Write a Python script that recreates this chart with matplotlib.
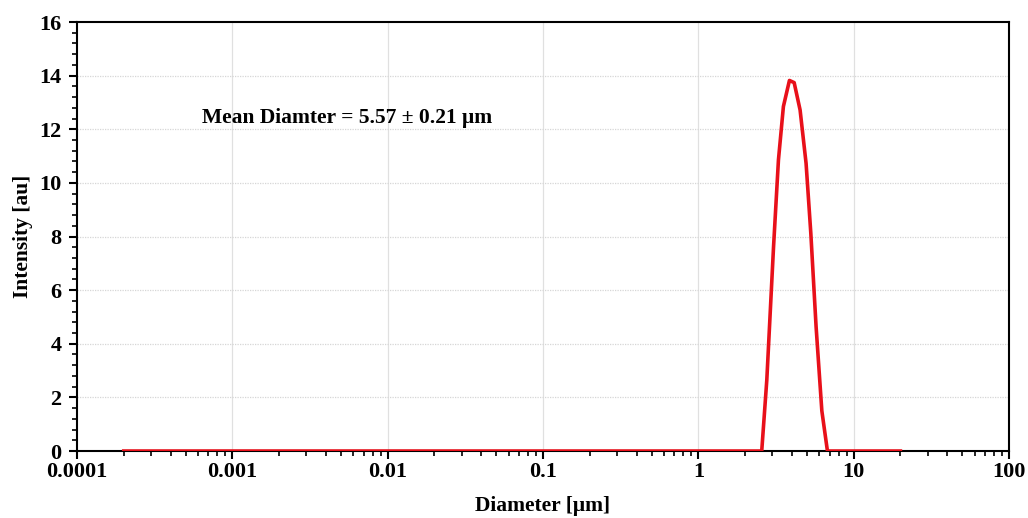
import numpy as np
import matplotlib.pyplot as plt
from matplotlib.ticker import MultipleLocator, LogLocator, NullFormatter

# ---------- Data ----------
diameter = [0.0002, 2.56, 2.76, 3.05, 3.28, 3.53, 3.86, 4.14, 4.52, 4.94, 5.30, 5.73, 6.24, 6.78, 20]
intensity = [0, 0, 2.65, 7.62, 10.86, 12.85, 13.82, 13.74, 12.72, 10.73, 8.12, 4.64, 1.5, 0, 0]

x_ticks = [0.0001, 0.001, 0.01, 0.1, 1, 10, 100]
x_tick_labels = ["0.0001", "0.001", "0.01", "0.1", "1", "10", "100"]
y_ticks = [0, 2, 4, 6, 8, 10, 12, 14, 16]

plt.rcParams['font.family'] = ['Liberation Serif', 'DejaVu Serif']
plt.rcParams['font.weight'] = 'bold'

fig = plt.figure(figsize=(10.28, 5.18), dpi=100)
ax = fig.add_axes([0.0749, 0.1293, 0.9066, 0.8282])

ax.plot(diameter, intensity, color='#e8101a', lw=2.6, zorder=3)

ax.set_xscale('log')
ax.set_xlim(0.0001, 100)
ax.set_ylim(0, 16)

ax.set_xticks(x_ticks)
ax.set_xticklabels(x_tick_labels)
ax.xaxis.set_minor_locator(LogLocator(base=10, subs=np.arange(2, 10)))
ax.xaxis.set_minor_formatter(NullFormatter())
ax.set_yticks(y_ticks)
ax.yaxis.set_minor_locator(MultipleLocator(0.4))

# grid: solid vertical at decades, dotted horizontal
for xv in x_ticks[1:-1]:
    ax.axvline(xv, color='#e0e0e0', lw=0.9, zorder=1)
for yv in y_ticks[1:-1]:
    ax.axhline(yv, color='#d6d6d6', lw=0.9, ls=(0, (1, 1)), zorder=1)

ax.tick_params(axis='both', which='major', labelsize=16, direction='out', length=6, width=1.5)
ax.tick_params(axis='x', which='major', pad=2)
ax.tick_params(axis='y', which='major', pad=5)
ax.tick_params(axis='both', which='minor', direction='out', length=3.5, width=1.2)
for lab in ax.get_xticklabels() + ax.get_yticklabels():
    lab.set_fontweight('bold')

for sp in ax.spines.values():
    sp.set_linewidth(1.5)
    sp.set_color('black')

ax.set_xlabel('Diameter [μm]', fontsize=15.5, fontweight='bold', labelpad=10)
ax.set_ylabel('Intensity [au]', fontsize=15.5, fontweight='bold', labelpad=5)

ax.text(0.00064, 12.43, 'Mean Diamter = 5.57 ± 0.21 μm', fontsize=15.5,
        fontweight='bold', ha='left', va='center')

fig.savefig('out.png', dpi=100)
